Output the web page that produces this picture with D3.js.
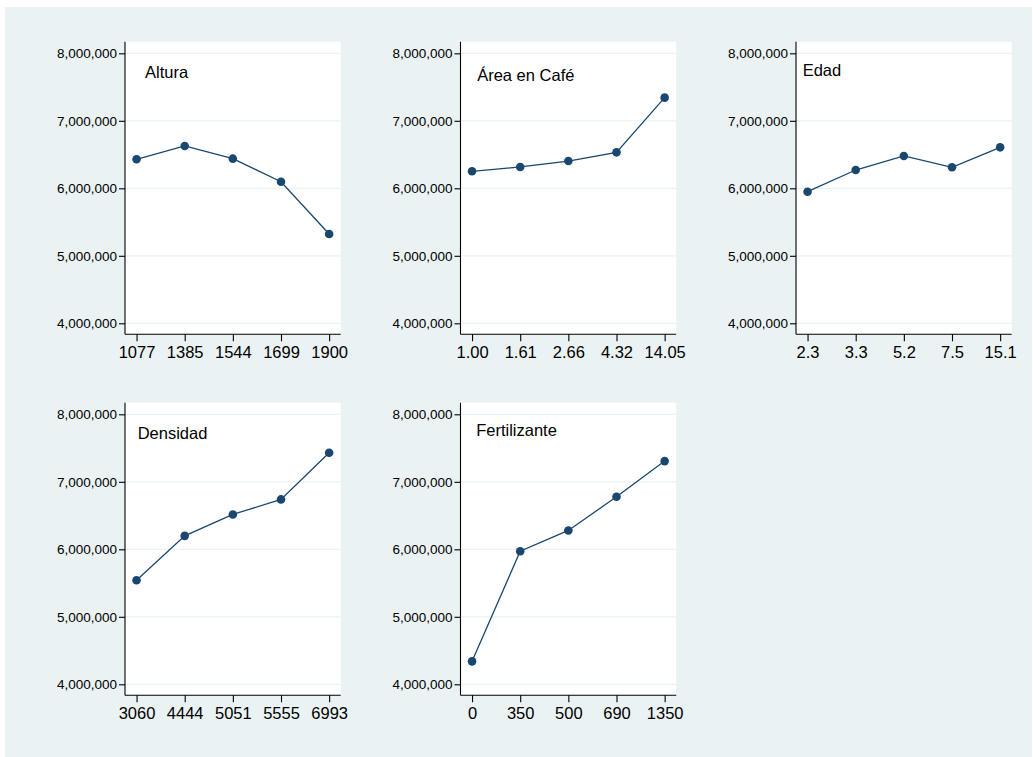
<!DOCTYPE html>
<html>
<head>
<meta charset="utf-8">
<script src="https://cdn.jsdelivr.net/npm/d3@7"></script>
<style>
  html, body { margin: 0; padding: 0; background: #ffffff; }
  svg { display: block; }
  text { font-family: "Liberation Sans", Arial, sans-serif; fill: #000; }
</style>
</head>
<body>
<svg id="chart" width="1033" height="757"></svg>
<script>
// Panel titles
const panelTitles = ["Altura", "Área en Café", "Edad", "Densidad", "Fertilizante"];

// Category labels per panel
const alturaCats = ["1077", "1385", "1544", "1699", "1900"];
const areaCats = ["1.00", "1.61", "2.66", "4.32", "14.05"];
const edadCats = ["2.3", "3.3", "5.2", "7.5", "15.1"];
const densidadCats = ["3060", "4444", "5051", "5555", "6993"];
const fertilizanteCats = ["0", "350", "500", "690", "1350"];

// Mean values per category
const alturaVals = [6430000, 6627000, 6439000, 6098000, 5323000];
const areaVals = [6252000, 6316000, 6404000, 6533000, 7343000];
const edadVals = [5950000, 6271000, 6479000, 6311000, 6607000];
const densidadVals = [5542000, 6199000, 6516000, 6739000, 7430000];
const fertilizanteVals = [4340000, 5972000, 6279000, 6778000, 7307000];

// Shared y-axis ticks
const yTicks = [4000000, 5000000, 6000000, 7000000, 8000000];

const panels = [
  { title: panelTitles[0], cats: alturaCats, vals: alturaVals },
  { title: panelTitles[1], cats: areaCats, vals: areaVals },
  { title: panelTitles[2], cats: edadCats, vals: edadVals },
  { title: panelTitles[3], cats: densidadCats, vals: densidadVals },
  { title: panelTitles[4], cats: fertilizanteCats, vals: fertilizanteVals }
];

// Layout
const W = 1033, H = 757;
const plotW = 215.7, plotH = 292.6;
const colX = [125, 460.5, 796];
const rowY = [41.7, 402.7];
const titleOffsets = [[20, 36.6], [16.7, 39], [6.7, 34], [12.7, 36.3], [15.7, 33]];
const navy = "#1a476f";
const grid = "#eaf2f3";

const svg = d3.select("#chart");

// Graph region background
svg.append("rect")
  .attr("x", 5).attr("y", 7)
  .attr("width", 1027).attr("height", 750)
  .attr("fill", "#eaf2f3");

const y = d3.scaleLinear().domain([3837000, 8172000]).range([plotH, 0]);
const fmt = d3.format(",");

panels.forEach((p, i) => {
  const col = i % 3, row = Math.floor(i / 3);
  const g = svg.append("g").attr("transform", `translate(${colX[col]},${rowY[row]})`);

  const x = d3.scalePoint().domain(p.cats).range([0, plotW]).padding(0.24);

  // plot area
  g.append("rect").attr("width", plotW).attr("height", plotH).attr("fill", "#ffffff");

  // gridlines
  g.selectAll("line.grid").data(yTicks).join("line")
    .attr("class", "grid")
    .attr("x1", 0).attr("x2", plotW)
    .attr("y1", d => y(d)).attr("y2", d => y(d))
    .attr("stroke", grid).attr("stroke-width", 1.2);

  // y axis
  const yAxis = d3.axisLeft(y).tickValues(yTicks).tickFormat(fmt).tickSize(6).tickPadding(2);
  const ya = g.append("g").call(yAxis);
  ya.select(".domain").attr("d", `M0,0V${plotH}`).attr("stroke", "#000").attr("stroke-width", 1.1);
  ya.selectAll(".tick line").attr("stroke", "#000").attr("stroke-width", 1.1);
  ya.selectAll(".tick text")
    .attr("font-size", "13.5px")
    .attr("font-family", "Liberation Sans, Arial, sans-serif")
    .attr("fill", "#1a1a1a");

  // x axis
  const xAxis = d3.axisBottom(x).tickSize(7).tickPadding(5);
  const xa = g.append("g").attr("transform", `translate(0,${plotH})`).call(xAxis);
  xa.select(".domain").attr("d", `M0,0H${plotW}`).attr("stroke", "#000").attr("stroke-width", 1.1);
  xa.selectAll(".tick line").attr("stroke", "#000").attr("stroke-width", 1.1);
  xa.selectAll(".tick text")
    .attr("font-size", "16.5px")
    .attr("font-family", "Liberation Sans, Arial, sans-serif")
    .attr("fill", "#000");

  // connected line
  const line = d3.line().x((d, j) => x(p.cats[j])).y(d => y(d));
  g.append("path").datum(p.vals)
    .attr("d", line)
    .attr("fill", "none")
    .attr("stroke", navy)
    .attr("stroke-width", 1.3);

  // markers
  g.selectAll("circle.pt").data(p.vals).join("circle")
    .attr("class", "pt")
    .attr("cx", (d, j) => x(p.cats[j]))
    .attr("cy", d => y(d))
    .attr("r", 4.3)
    .attr("fill", navy);

  // panel title
  g.append("text")
    .attr("x", titleOffsets[i][0])
    .attr("y", titleOffsets[i][1])
    .attr("font-size", "16.5px")
    .text(p.title);
});
</script>
</body>
</html>
